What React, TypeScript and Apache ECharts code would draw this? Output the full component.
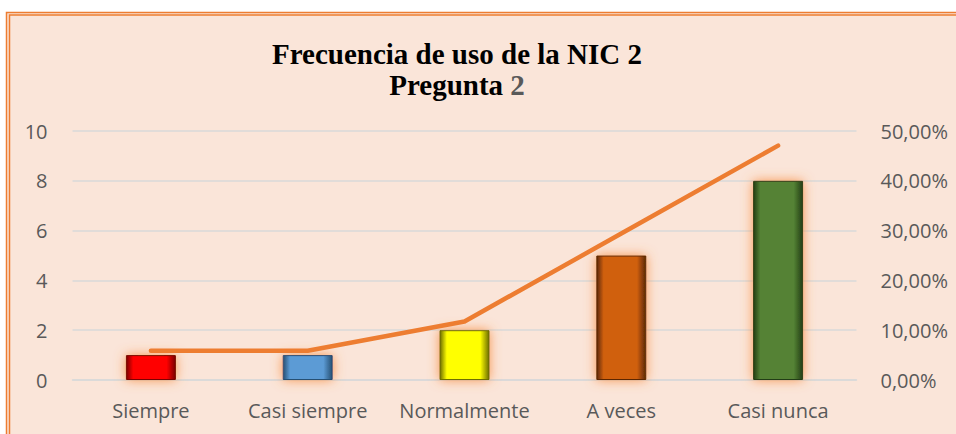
import React, { useEffect, useRef } from "react";
import * as echarts from "echarts";

const categories = ["Siempre", "Casi siempre", "Normalmente", "A veces", "Casi nunca"];
const frequencies = [1, 1, 2, 5, 8];
const percentages = [0.0588, 0.0588, 0.1176, 0.2941, 0.4706];
const barColors = ["#FF0000", "#5B9BD5", "#FFFF00", "#D0600F", "#548235"];
const barDark = ["#7A0000", "#264F73", "#6E6E00", "#5C2804", "#233E16"];
const leftTicks = [0, 2, 4, 6, 8, 10];
const rightTicks = [0, 0.1, 0.2, 0.3, 0.4, 0.5];

const LABEL_FONT = "'Open Sans', 'Noto Sans', sans-serif";
const TITLE_FONT = "'Liberation Serif', 'Times New Roman', serif";

export default function App() {
  const ref = useRef<HTMLDivElement>(null);
  useEffect(() => {
    if (!ref.current) return;
    const chart = echarts.init(ref.current, undefined, { renderer: "svg" });
    const fmtPct = (v: number) => (v * 100).toFixed(2).replace(".", ",") + "%";
    chart.setOption({
      animation: false,
      backgroundColor: "#FFFFFF",
      graphic: [
        {
          type: "rect",
          z: -10,
          silent: true,
          shape: { x: 6.5, y: 12.5, width: 960, height: 430 },
          style: { fill: "#FAE5D9", stroke: "#ED7D31", lineWidth: 1.5 },
        },
        {
          type: "rect",
          z: -9,
          silent: true,
          shape: { x: 9.5, y: 15, width: 960, height: 430 },
          style: { fill: "none", stroke: "#ED7D31", lineWidth: 1.5 },
        },
      ],
      title: {
        left: 452,
        top: 33,
        textAlign: "center",
        text: "{a|Frecuencia de uso de la NIC 2}\n{a|Pregunta }{b|2}",
        textStyle: {
          fontFamily: TITLE_FONT,
          fontWeight: "bold",
          fontSize: 29,
          rich: {
            a: { fontFamily: TITLE_FONT, fontWeight: "bold", fontSize: 29, color: "#000000", lineHeight: 31 },
            b: { fontFamily: TITLE_FONT, fontWeight: "bold", fontSize: 29, color: "#595959", lineHeight: 31 },
          },
        },
      },
      grid: { left: 72.5, right: 99.5, top: 131, bottom: 54, containLabel: false },
      xAxis: {
        type: "category",
        data: categories,
        axisTick: { show: false },
        axisLine: { lineStyle: { color: "#D9D9D9", width: 1.5 } },
        axisLabel: { color: "#595959", fontSize: 20, fontFamily: LABEL_FONT, margin: 20, interval: 0 },
      },
      yAxis: [
        {
          type: "value",
          min: leftTicks[0],
          max: leftTicks[leftTicks.length - 1],
          interval: 2,
          axisLine: { show: false },
          axisTick: { show: false },
          splitLine: { lineStyle: { color: "#D9D9D9", width: 1.5 } },
          axisLabel: { color: "#595959", fontSize: 20, fontFamily: LABEL_FONT, margin: 25 },
        },
        {
          type: "value",
          min: rightTicks[0],
          max: rightTicks[rightTicks.length - 1],
          interval: 0.1,
          axisLine: { show: false },
          axisTick: { show: false },
          splitLine: { show: false },
          axisLabel: { color: "#595959", fontSize: 20, fontFamily: LABEL_FONT, margin: 24, formatter: fmtPct },
        },
      ],
      series: [
        {
          type: "bar",
          yAxisIndex: 0,
          barWidth: 50,
          data: frequencies.map((v, i) => ({
            value: v,
            itemStyle: {
              color: new echarts.graphic.LinearGradient(0, 0, 1, 0, [
                { offset: 0, color: barDark[i] },
                { offset: 0.14, color: barColors[i] },
                { offset: 0.82, color: barColors[i] },
                { offset: 1, color: barDark[i] },
              ]),
              borderColor: barDark[i],
              borderWidth: 1,
              shadowColor: "rgba(248,140,60,0.9)",
              shadowBlur: 12,
            },
          })),
        },
        {
          type: "line",
          yAxisIndex: 1,
          data: percentages,
          symbol: "none",
          lineStyle: { color: "#ED7D31", width: 4.5, cap: "round", join: "round" },
          z: 5,
        },
      ],
    });
    return () => chart.dispose();
  }, []);
  return (
    <div style={{ position: "fixed", left: 0, top: 0, width: 956, height: 434, overflow: "hidden" }}>
      <div ref={ref} style={{ width: 956, height: 434 }} />
    </div>
  );
}
